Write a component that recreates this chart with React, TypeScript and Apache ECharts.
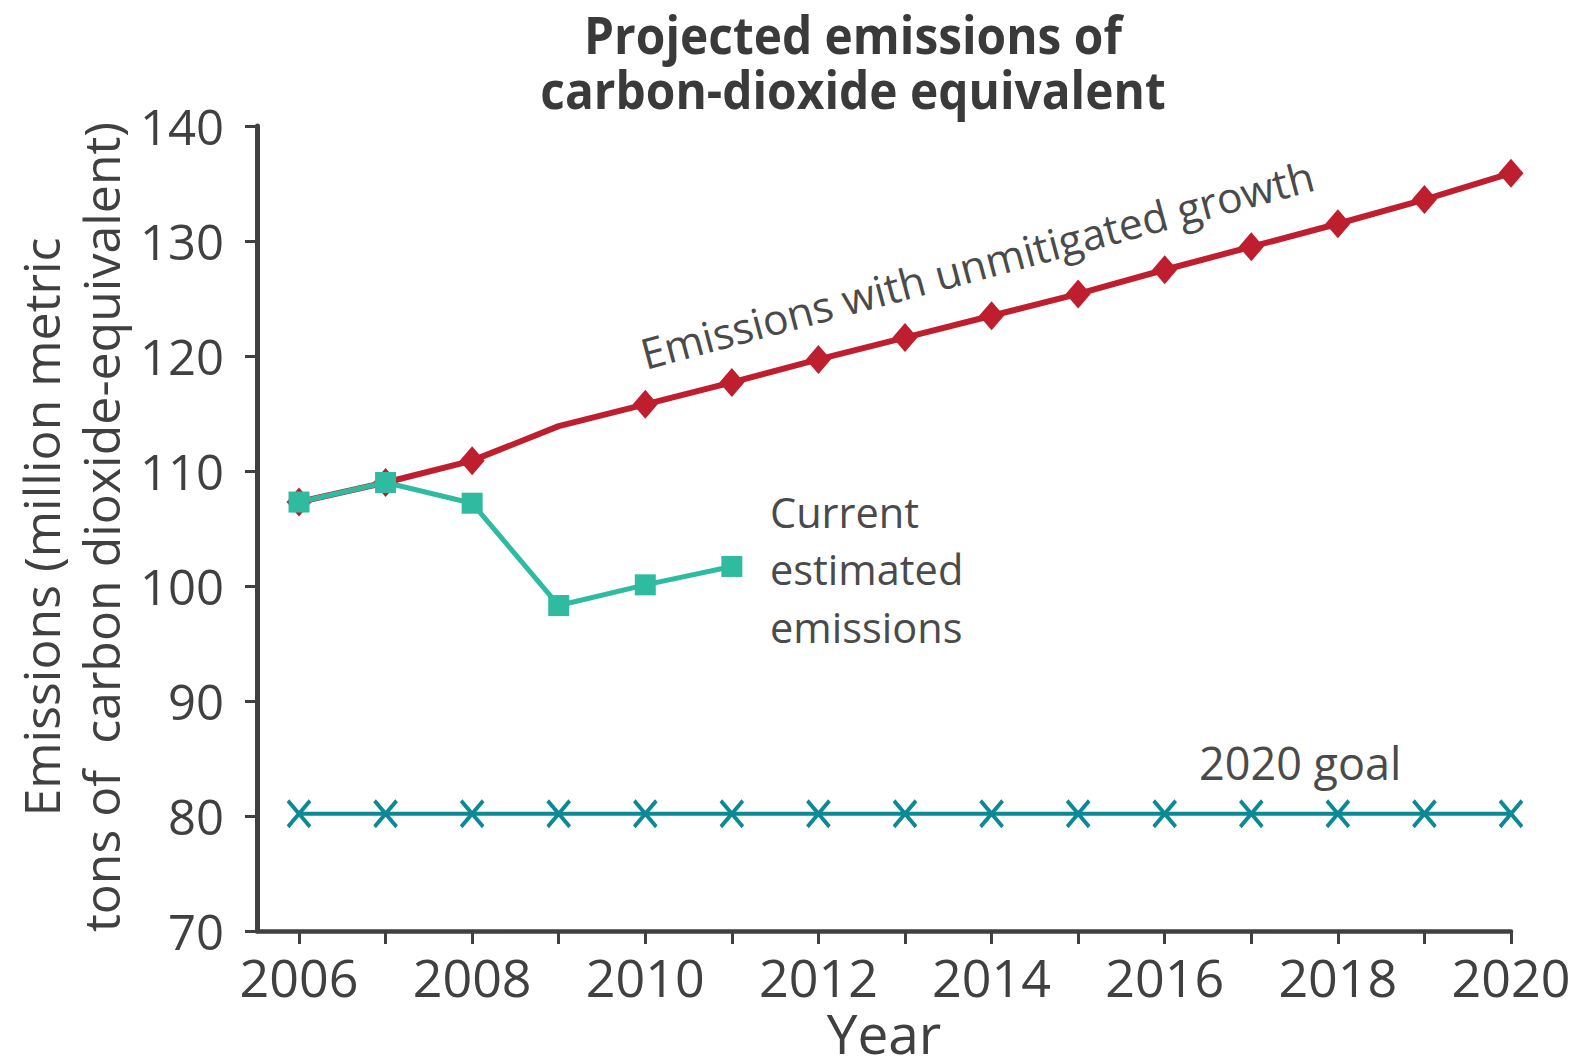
import React, { useEffect, useRef } from "react";
import * as echarts from "echarts";

const years = [2006, 2007, 2008, 2009, 2010, 2011, 2012, 2013, 2014, 2015, 2016, 2017, 2018, 2019, 2020];
const unmitigated = [107.3, 109.0, 110.9, 113.9, 115.8, 117.7, 119.7, 121.6, 123.5, 125.4, 127.5, 129.5, 131.5, 133.6, 135.9];
const unmitigatedNoMarkerYears = [2009];
const currentYears = [2006, 2007, 2008, 2009, 2010, 2011];
const currentEstimated = [107.3, 109.0, 107.2, 98.3, 100.1, 101.7];
const goal = [80.2, 80.2, 80.2, 80.2, 80.2, 80.2, 80.2, 80.2, 80.2, 80.2, 80.2, 80.2, 80.2, 80.2, 80.2];
const yTicks = { min: 70, max: 140, interval: 10 };
const titleLines = ["Projected emissions of", "carbon-dioxide equivalent"];
const yNameLines = ["Emissions (million metric", "tons of  carbon dioxide-equivalent)"];

const RED = "#BE1E2D";
const TEAL = "#2FBBA0";
const GOAL = "#0B8995";
const AXIS = "#404040";
const TEXT = "#404040";
const FONT = "'Open Sans', sans-serif";

export default function App() {
  const ref = useRef<HTMLDivElement>(null);
  useEffect(() => {
    document.body.style.margin = "0";
    document.body.style.overflow = "hidden";
    document.documentElement.style.overflow = "hidden";
    if (!ref.current) return;
    const chart = echarts.init(ref.current, null, { renderer: "svg" });
    const gridBase = { top: 126, bottom: 129, right: 72, outerBoundsMode: "none", containLabel: false };
    const option: any = {
      animation: false,
      backgroundColor: "#ffffff",
      grid: [
        { ...gridBase, left: 257 },
        { ...gridBase, left: 299 },
      ],
      xAxis: [
        {
          gridIndex: 0,
          type: "value",
          min: 0,
          max: 1,
          name: "Year",
          nameLocation: "middle",
          nameGap: 87,
          nameTextStyle: { fontFamily: FONT, fontSize: 55, color: TEXT, lineHeight: 28 },
          axisLine: { show: true, lineStyle: { color: AXIS, width: 4.5 } },
          axisTick: { show: false },
          axisLabel: { show: false },
          splitLine: { show: false },
        },
        {
          gridIndex: 1,
          type: "value",
          min: 2006,
          max: 2020,
          interval: 1,
          axisLine: { show: false },
          axisTick: { show: true, length: 13, lineStyle: { color: AXIS, width: 3 } },
          axisLabel: {
            fontFamily: FONT,
            fontSize: 52,
            color: TEXT,
            margin: 19,
            formatter: (v: number) => (v % 2 === 0 ? String(v) : ""),
          },
          splitLine: { show: false },
        },
      ],
      yAxis: [
        {
          gridIndex: 0,
          type: "value",
          min: yTicks.min,
          max: yTicks.max,
          interval: yTicks.interval,
          axisLine: { show: true, lineStyle: { color: AXIS, width: 5 } },
          axisTick: { show: true, length: 12, lineStyle: { color: AXIS, width: 3 } },
          axisLabel: { fontFamily: FONT, fontSize: 49, color: TEXT, margin: 33 },
          splitLine: { show: false },
        },
        {
          gridIndex: 1,
          type: "value",
          min: yTicks.min,
          max: yTicks.max,
          show: false,
          splitLine: { show: false },
        },
      ],
      series: [
        {
          type: "line",
          name: "2020 goal",
          xAxisIndex: 1,
          yAxisIndex: 1,
          data: years.map((y, i) => [y, goal[i]]),
          symbol: "path://M0,0L10,10M10,0L0,10",
          symbolSize: [22, 26],
          lineStyle: { color: GOAL, width: 4 },
          itemStyle: { color: GOAL, borderColor: GOAL, borderWidth: 4 },
          z: 2,
        },
        {
          type: "line",
          name: "Emissions with unmitigated growth",
          xAxisIndex: 1,
          yAxisIndex: 1,
          data: years.map((y, i) =>
            unmitigatedNoMarkerYears.includes(y)
              ? { value: [y, unmitigated[i]], symbol: "none" }
              : { value: [y, unmitigated[i]] }
          ),
          symbol: "diamond",
          symbolSize: [25, 29],
          lineStyle: { color: RED, width: 6 },
          itemStyle: { color: RED },
          z: 3,
        },
        {
          type: "line",
          name: "Current estimated emissions",
          xAxisIndex: 1,
          yAxisIndex: 1,
          data: currentYears.map((y, i) => [y, currentEstimated[i]]),
          symbol: "rect",
          symbolSize: 21,
          lineStyle: { color: TEAL, width: 5 },
          itemStyle: { color: TEAL },
          z: 4,
        },
      ],
      graphic: [
        {
          type: "text",
          x: 853,
          y: 34,
          scaleX: 0.92,
          style: {
            text: titleLines[0],
            font: `bold 52px ${FONT}`,
            fill: "#3a3a3a",
            align: "center",
            verticalAlign: "middle",
            textAlign: "center",
            textVerticalAlign: "middle",
            lineHeight: 52,
          },
        },
        {
          type: "text",
          x: 853,
          y: 89,
          scaleX: 0.92,
          style: {
            text: titleLines[1],
            font: `bold 52px ${FONT}`,
            fill: "#3a3a3a",
            align: "center",
            verticalAlign: "middle",
            textAlign: "center",
            textVerticalAlign: "middle",
            lineHeight: 52,
          },
        },
        {
          type: "text",
          x: 71,
          y: 527,
          rotation: Math.PI / 2,
          style: {
            text: yNameLines.join("\n"),
            font: `50px ${FONT}`,
            fill: TEXT,
            align: "center",
            verticalAlign: "middle",
            textAlign: "center",
            textVerticalAlign: "middle",
            lineHeight: 60,
          },
        },
        {
          type: "text",
          x: 977,
          y: 264,
          rotation: (15 * Math.PI) / 180,
          style: {
            text: "Emissions with unmitigated growth",
            font: `42.5px ${FONT}`,
            fill: "#4a4a4a",
            align: "center",
            verticalAlign: "middle",
            textAlign: "center",
            textVerticalAlign: "middle",
          },
        },
        {
          type: "text",
          x: 770,
          y: 483,
          style: {
            text: "Current\nestimated\nemissions",
            font: `41.5px ${FONT}`,
            fill: "#4a4a4a",
            align: "left",
            verticalAlign: "top",
            textAlign: "left",
            textVerticalAlign: "top",
            lineHeight: 57.5,
          },
        },
        {
          type: "text",
          x: 1199,
          y: 762,
          style: {
            text: "2020 goal",
            font: `45px ${FONT}`,
            fill: "#4a4a4a",
            align: "left",
            verticalAlign: "middle",
            textAlign: "left",
            textVerticalAlign: "middle",
          },
        },
      ],
    };
    chart.setOption(option);
    return () => chart.dispose();
  }, []);
  return <div ref={ref} style={{ width: 1583, height: 1060 }} />;
}
